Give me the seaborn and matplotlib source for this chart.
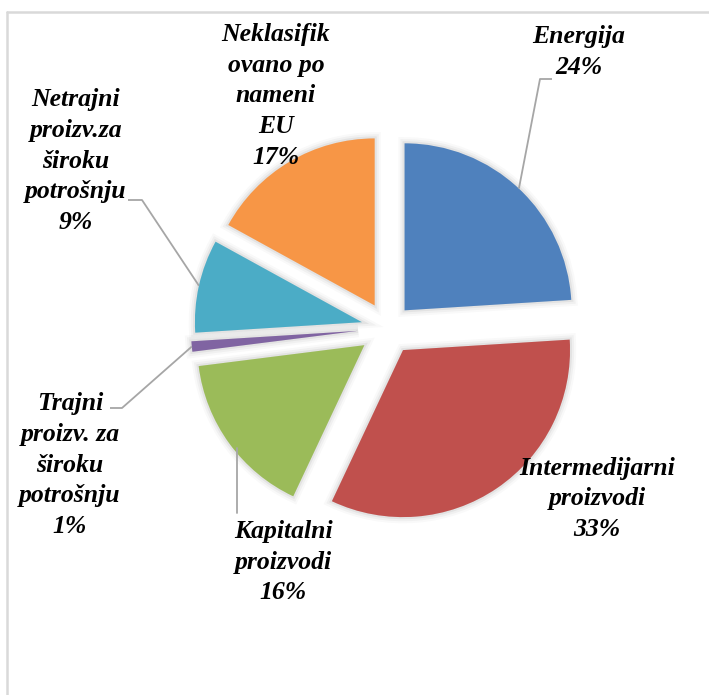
import numpy as np
import matplotlib.pyplot as plt
import seaborn as sns
import matplotlib.patheffects as pe
from matplotlib.lines import Line2D

sns.set_theme(style="white")
plt.rcParams['font.family'] = ['Liberation Serif', 'DejaVu Serif']

# data
labels = ["Energija", "Intermedijarni\nproizvodi", "Kapitalni\nproizvodi",
          "Trajni\nproizv. za\nširoku\npotrošnju", "Netrajni\nproizv.za\nširoku\npotrošnju",
          "Neklasifik\novano po\nnameni\nEU"]
shares = [24, 33, 16, 1, 9, 17]
colors = ["#4F81BD", "#C0504D", "#9BBB59", "#8064A2", "#4BACC6", "#F79646"]
explode = [0.145, 0.16, 0.175, 0.18, 0.16, 0.157]

W, H = 709, 695
fig = plt.figure(figsize=(W / 100, H / 100), dpi=100)
ax = fig.add_axes([0, 0, 1, 1])

def py(y):
    return H - y

R = 167
# pie explode is in data units, so scale by radius
wedges, _ = ax.pie(shares, colors=sns.color_palette(colors), explode=[e * R for e in explode],
                   startangle=90, counterclock=False, radius=R,
                   center=(388, py(328)), frame=True,
                   wedgeprops=dict(linewidth=0))
ax.set_xlim(0, W)
ax.set_ylim(0, H)
ax.axis("off")

# soft shadow like excel
for w in wedges:
    w.set_path_effects([pe.Stroke(linewidth=9, foreground="#000000", alpha=0.025),
                        pe.Stroke(linewidth=6, foreground="#000000", alpha=0.035),
                        pe.Stroke(linewidth=3, foreground="#000000", alpha=0.05),
                        pe.Normal()])

def arc_mid(w):
    th = np.deg2rad((w.theta1 + w.theta2) / 2)
    cx, cy = w.center
    return cx + w.r * np.cos(th), cy + w.r * np.sin(th)

# label text: (x, y center in pixels)
label_pos = [(579, 52), (597, 499), (283, 562), (70, 465), (76, 161), (276, 96)]
fs = 18.5
for lab, s, (x, y) in zip(labels, shares, label_pos):
    ax.text(x, py(y), f"{lab}\n{s}%", ha="center", va="center", multialignment="center",
            fontsize=fs, fontweight="bold", fontstyle="italic", color="black",
            linespacing=1.42)

# leader lines
lc = "#A6A6A6"
leaders = {0: [(552, 79), (540, 79)],
           3: [(110, 408), (122, 408)],
           4: [(128, 200), (142, 200)]}
for i, pts in leaders.items():
    mx, my = arc_mid(wedges[i])
    xs = [p[0] for p in pts] + [mx]
    ys = [py(p[1]) for p in pts] + [my]
    ax.plot(xs, ys, color=lc, lw=1.3, solid_capstyle="butt")
# kapitalni: vertical leader
ax.plot([237, 237], [py(513), py(448)], color=lc, lw=1.3)

# chart frame
fig.add_artist(Line2D([7 / W, 7 / W], [0, 1 - 12 / H], color="#D9D9D9", lw=1.8))
fig.add_artist(Line2D([7 / W, 1], [1 - 12 / H, 1 - 12 / H], color="#D9D9D9", lw=1.8))

fig.savefig("out.png", dpi=100)
